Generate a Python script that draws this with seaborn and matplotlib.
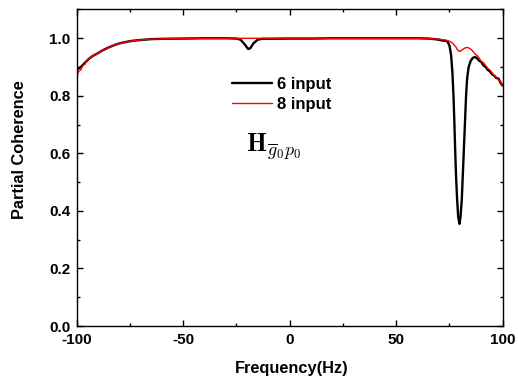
import matplotlib
matplotlib.use("Agg")
import matplotlib.pyplot as plt
import seaborn as sns
import pandas as pd
from matplotlib.ticker import MultipleLocator, FormatStrFormatter

# ---- data ----
freq_6 = [-100, -98, -96, -94, -92, -90, -88, -85, -82, -80, -77, -74, -70, -65, -60,
          -50, -40, -30, -25, -23, -21, -19.5, -18.5, -17, -15, -13, -10, 0, 10, 20,
          30, 40, 50, 60, 65, 68, 70, 72, 74, 75, 75.8, 76.4, 76.9, 77.3, 77.7, 78.1,
          78.6, 79.1, 79.7, 80.2, 80.8, 81.3, 81.8, 82.3, 82.8, 83.3, 84, 85, 86, 87,
          88, 89, 90, 91, 92, 93, 94, 95, 96, 97, 98, 99, 100]
coh_6 = [0.89, 0.90, 0.915, 0.93, 0.94, 0.948, 0.957, 0.968, 0.977, 0.982, 0.987, 0.991,
         0.994, 0.997, 0.998, 0.999, 1.0, 1.0, 0.999, 0.995, 0.978, 0.963, 0.965, 0.982,
         0.995, 0.998, 0.998, 0.999, 0.999, 1.0, 1.0, 1.0, 1.0, 1.0, 0.999, 0.997, 0.995,
         0.992, 0.99, 0.975, 0.94, 0.88, 0.80, 0.71, 0.61, 0.52, 0.44, 0.38, 0.355, 0.38,
         0.44, 0.53, 0.62, 0.71, 0.80, 0.86, 0.90, 0.922, 0.932, 0.935, 0.93, 0.922,
         0.917, 0.905, 0.90, 0.89, 0.885, 0.875, 0.87, 0.862, 0.86, 0.845, 0.835]

freq_8 = [-100, -99, -98, -97, -96, -95, -94, -93, -92, -90, -88, -86, -84, -82, -80,
          -77, -74, -70, -65, -60, -50, -40, 0, 40, 60, 65, 70, 73, 75, 76.5, 78, 79,
          80, 81, 82, 83, 84, 85, 86, 87, 88, 89, 90, 91, 92, 93, 94, 95, 96, 97, 98,
          99, 100]
coh_8 = [0.865, 0.885, 0.89, 0.905, 0.91, 0.925, 0.93, 0.935, 0.94, 0.948, 0.957, 0.963,
         0.972, 0.977, 0.982, 0.987, 0.991, 0.994, 0.997, 0.998, 0.999, 1.0, 1.0, 1.0,
         1.0, 0.999, 0.997, 0.994, 0.99, 0.983, 0.97, 0.957, 0.954, 0.96, 0.965, 0.968,
         0.967, 0.962, 0.955, 0.945, 0.94, 0.93, 0.92, 0.915, 0.905, 0.895, 0.89, 0.88,
         0.87, 0.865, 0.855, 0.85, 0.835]

labels = ["6 input", "8 input"]

df = pd.concat([
    pd.DataFrame({"Frequency": freq_6, "Coherence": coh_6, "Series": labels[0]}),
    pd.DataFrame({"Frequency": freq_8, "Coherence": coh_8, "Series": labels[1]}),
], ignore_index=True)

sns.set_style("ticks")
plt.rcParams["font.family"] = ["Liberation Sans", "DejaVu Sans"]
plt.rcParams["mathtext.fontset"] = "cm"
plt.rcParams["axes.unicode_minus"] = False
plt.rcParams["text.color"] = "black"
plt.rcParams["axes.labelcolor"] = "black"
plt.rcParams["xtick.color"] = "black"
plt.rcParams["ytick.color"] = "black"

fig = plt.figure(figsize=(5.18, 3.83), dpi=100)
ax = fig.add_axes([0.1477, 0.1488, 0.8228, 0.8264])

sns.lineplot(data=df, x="Frequency", y="Coherence", hue="Series",
             palette={labels[0]: "black", labels[1]: "red"},
             size="Series", sizes={labels[0]: 1.7, labels[1]: 1.0},
             sort=False, estimator=None, ax=ax)

ax.set_xlim(-100, 100)
ax.set_ylim(0, 1.1)
ax.xaxis.set_major_locator(MultipleLocator(50))
ax.xaxis.set_minor_locator(MultipleLocator(25))
ax.yaxis.set_major_locator(MultipleLocator(0.2))
ax.yaxis.set_minor_locator(MultipleLocator(0.1))
ax.yaxis.set_major_formatter(FormatStrFormatter("%.1f"))
ax.xaxis.set_major_formatter(FormatStrFormatter("%d"))
ax.tick_params(which="both", direction="in", top=True, right=True, width=1,
               colors="black", labelcolor="black")
ax.tick_params(which="major", length=4)
ax.tick_params(which="minor", length=2.5)
ax.tick_params(axis="x", pad=5)
ax.tick_params(axis="y", pad=4.5)
for lab in ax.get_xticklabels() + ax.get_yticklabels():
    lab.set_fontweight("bold")
    lab.set_fontsize(11)
for s in ax.spines.values():
    s.set_visible(True)
    s.set_linewidth(1.0)
    s.set_color("black")

ax.set_xlabel("Frequency(Hz)", fontsize=11.8, fontweight="bold", color="black")
ax.set_ylabel("Partial Coherence", fontsize=11.8, fontweight="bold", color="black")
ax.xaxis.set_label_coords(0.505, -0.112)
ax.yaxis.set_label_coords(-0.116, 0.556)

handles, labs = ax.get_legend_handles_labels()
leg = ax.legend(handles, labs, loc="center left", bbox_to_anchor=(0.364, 0.731),
                frameon=False, handlelength=2.4, handletextpad=0.35,
                labelspacing=0.3, borderpad=0, borderaxespad=0,
                prop={"weight": "bold", "size": 12}, labelcolor="black")

ax.text(0.398, 0.55, r"$\mathbf{H}_{\overline{g}_0 p_0}$", transform=ax.transAxes,
        fontsize=18.5, ha="left", va="baseline", color="black")

fig.savefig("out.png", dpi=100)
